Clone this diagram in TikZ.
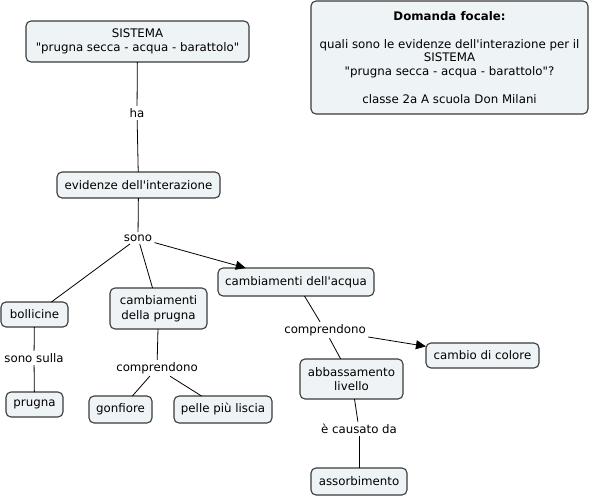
\documentclass[tikz,border=0pt]{standalone}
\usepackage{fontspec}
\setmainfont{DejaVu Sans}[Ligatures=TeXOff]
\usetikzlibrary{arrows.meta}
\definecolor{nodefill}{HTML}{EEF3F6}
\definecolor{nodeline}{HTML}{3A3A3A}
\tikzset{
  concept/.style={draw=nodeline, fill=nodefill, line width=1.1pt, rounded corners=5pt,
    align=center, inner sep=0pt, outer sep=0pt, font=\fontsize{11.8}{14.5}\selectfont},
  linkword/.style={inner sep=2.5pt, outer sep=0pt, font=\fontsize{11.8}{14.5}\selectfont},
  conn/.style={draw=black, line width=0.8pt},
  arr/.style={conn, -{Triangle[length=10pt,width=9pt]}}
}
\begin{document}
\begin{tikzpicture}[x=1pt,y=-1pt]
\useasboundingbox (0,0) rectangle (590,496);
% concepts
\node[concept, minimum width=223pt, minimum height=41pt] (sis) at (137.5,41.5) {SISTEMA\\"prugna secca - acqua - barattolo"};
\node[concept, minimum width=163pt, minimum height=26pt] (evi) at (138.5,185) {evidenze dell'interazione};
\node[concept, minimum width=67pt, minimum height=25pt] (bol) at (34.5,314.5) {bollicine};
\node[concept, minimum width=97pt, minimum height=41pt] (cdp) at (158.5,308.5) {cambiamenti\\della prugna};
\node[concept, minimum width=156pt, minimum height=28pt] (cda) at (296,282) {cambiamenti dell'acqua};
\node[concept, minimum width=57pt, minimum height=25pt] (pru) at (34.5,404.5) {prugna};
\node[concept, minimum width=63pt, minimum height=27pt] (gon) at (120.5,409.5) {gonfiore};
\node[concept, minimum width=98pt, minimum height=27pt] (pel) at (223,409.5) {pelle più liscia};
\node[concept, minimum width=113pt, minimum height=25pt] (col) at (482.5,355.5) {cambio di colore};
\node[concept, minimum width=103pt, minimum height=40pt] (abb) at (351.5,379) {abbassamento\\livello};
\node[concept, minimum width=96pt, minimum height=27pt] (ass) at (359,481.5) {assorbimento};
% focal question
\node[concept, minimum width=277pt, minimum height=113pt, font=\fontsize{11.8}{13.7}\selectfont] (foc) at (449.5,57.5)
  {\textbf{Domanda focale:}\\[13.7pt]quali sono le evidenze dell'interazione per il\\SISTEMA\\"prugna secca - acqua - barattolo"?\\[13.7pt]classe 2a A scuola Don Milani};
% linking words
\node[linkword] (ha) at (137,113) {ha};
\node[linkword] (sono) at (138,238) {sono};
\node[linkword] (sul) at (34,358) {sono sulla};
\node[linkword] (comp1) at (157,368) {comprendono};
\node[linkword] (comp2) at (325,330) {comprendono};
\node[linkword] (caus) at (359,429) {è causato da};
% connectors
\draw[conn] (sis) -- (ha);
\draw[conn] (ha) -- (evi);
\draw[conn] (evi) -- (sono);
\draw[conn] (sono) -- (bol);
\draw[conn] (sono) -- (cdp);
\draw[arr] (sono) -- (cda);
\draw[conn] (bol) -- (sul);
\draw[conn] (sul) -- (pru);
\draw[conn] (cdp) -- (comp1);
\draw[conn] (comp1) -- (gon);
\draw[conn] (comp1) -- (pel);
\draw[conn] (cda) -- (comp2);
\draw[conn] (comp2) -- (abb);
\draw[arr] (comp2) -- (col);
\draw[conn] (abb) -- (caus);
\draw[conn] (caus) -- (ass);
\end{tikzpicture}
\end{document}
